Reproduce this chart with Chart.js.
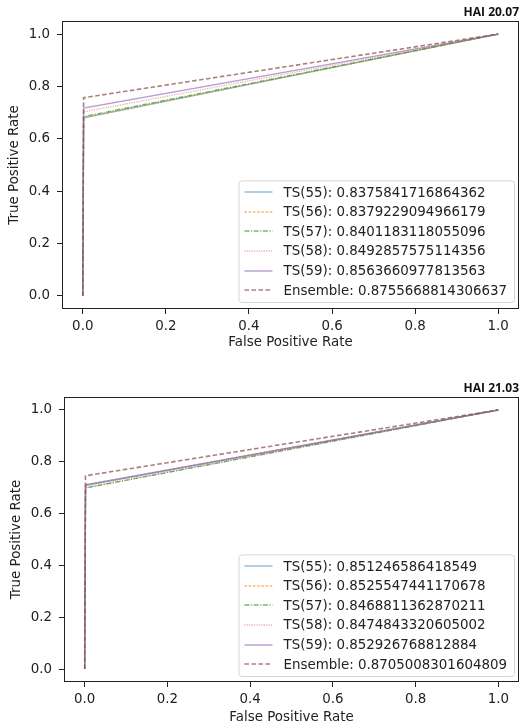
<!DOCTYPE html>
<html>
<head>
<meta charset="utf-8">
<script src="https://cdn.jsdelivr.net/npm/chart.js@4.4.1/dist/chart.umd.min.js"></script>
<style>
  html, body { margin: 0; padding: 0; background: #fff; }
  .panel { position: relative; width: 521px; height: 362px; }
</style>
</head>
<body>
<div class="panel"><canvas id="rocTop"></canvas></div>
<div class="panel"><canvas id="rocBottom"></canvas></div>
<script>
// ── Data ────────────────────────────────────────────────────────────────────
const modelNames = ['TS(55)', 'TS(56)', 'TS(57)', 'TS(58)', 'TS(59)', 'Ensemble'];

// HAI 20.07
const aucTop     = [0.8375841716864362, 0.8379229094966179, 0.8401183118055096,
                    0.8492857575114356, 0.8563660977813563, 0.8755668814306637];
const kneeFprTop = [0.002, 0.002, 0.002, 0.002, 0.002, 0.002];
const kneeTprTop = [0.680, 0.681, 0.685, 0.703, 0.717, 0.757];

// HAI 21.03
const aucBottom     = [0.851246586418549, 0.8525547441170678, 0.8468811362870211,
                       0.8474843320605002, 0.852926768812884, 0.8705008301604809];
const kneeFprBottom = [0.002, 0.002, 0.002, 0.002, 0.002, 0.002];
const kneeTprBottom = [0.708, 0.711, 0.699, 0.700, 0.711, 0.746];

const rocStart = [0, 0];
const rocEnd   = [1, 1];
const tickValues = [0, 0.2, 0.4, 0.6, 0.8, 1.0];

// ── Styling ─────────────────────────────────────────────────────────────────
const lineColors = ['rgba(31,119,180,0.5)', 'rgba(255,127,14,0.6)', 'rgba(44,160,44,0.7)',
                    'rgba(214,39,40,0.38)', 'rgba(148,103,189,0.65)', 'rgba(140,86,75,0.75)'];
const lineDashes = [[], [2.6, 1.6], [5, 1.5, 1.2, 1.5], [1.2, 1.2], [], [4.5, 2.5]];
const lineWidths = [1.4, 1.3, 1.4, 1.3, 1.4, 1.6];
const FONT = 'DejaVu Sans';
const TEXT = '#222';

// Black frame on all four sides, like a matplotlib axes.
const framePlugin = {
  id: 'frame',
  afterDatasetsDraw(chart) {
    const { ctx, chartArea: a } = chart;
    ctx.save();
    ctx.strokeStyle = '#222';
    ctx.lineWidth = 1;
    ctx.strokeRect(Math.round(a.left) + 0.5, Math.round(a.top) + 0.5,
      Math.round(a.right - a.left) - 1, Math.round(a.bottom - a.top) - 1);
    ctx.restore();
  },
};

// Bold caption sitting right-aligned above the frame.
const captionPlugin = {
  id: 'caption',
  afterDraw(chart, _args, opts) {
    const { ctx, chartArea: a } = chart;
    ctx.save();
    ctx.font = `bold 12px "Open Sans"`;
    ctx.fillStyle = '#111';
    ctx.textAlign = 'right';
    ctx.textBaseline = 'middle';
    ctx.fillText(opts.text, a.right, a.top - 8);
    ctx.restore();
  },
};

// Legend drawn inside the plot area, lower right corner.
const insideLegend = {
  id: 'insideLegend',
  afterDraw(chart, _args, opts) {
    const { ctx, chartArea: a } = chart;
    const sets = chart.data.datasets;
    const rowH = 19.6, padY = 2, padL = 6, sample = 28, gap = 11, padR = 7;
    ctx.save();
    ctx.font = `13.4px ${FONT}`;
    const textW = Math.max(...sets.map((d) => ctx.measureText(d.label).width));
    const w = padL + sample + gap + textW + padR;
    const h = sets.length * rowH + padY * 2;
    const x = a.right - opts.marginRight - w;
    const y = a.bottom - opts.marginBottom - h;

    ctx.beginPath();
    ctx.roundRect(x + 0.5, y + 0.5, w, h, 3);
    ctx.fillStyle = 'rgba(255,255,255,0.85)';
    ctx.fill();
    ctx.strokeStyle = '#d6d6d6';
    ctx.lineWidth = 1;
    ctx.stroke();

    sets.forEach((d, i) => {
      const cy = y + padY + rowH * (i + 0.5);
      ctx.beginPath();
      ctx.setLineDash(d.borderDash || []);
      ctx.strokeStyle = d.borderColor;
      ctx.lineWidth = d.borderWidth;
      ctx.moveTo(x + padL, Math.round(cy));
      ctx.lineTo(x + padL + sample, Math.round(cy));
      ctx.stroke();
      ctx.setLineDash([]);
      ctx.fillStyle = TEXT;
      ctx.textAlign = 'left';
      ctx.textBaseline = 'middle';
      ctx.fillText(d.label, x + padL + sample + gap, cy + 1);
    });
    ctx.restore();
  },
};

function buildDatasets(aucs, kneeFpr, kneeTpr) {
  return modelNames.map((name, i) => ({
    label: `${name}: ${aucs[i]}`,
    data: [
      { x: rocStart[0], y: rocStart[1] },
      { x: kneeFpr[i], y: kneeTpr[i] },
      { x: rocEnd[0], y: rocEnd[1] },
    ],
    borderColor: lineColors[i],
    borderDash: lineDashes[i],
    borderWidth: lineWidths[i],
    pointRadius: 0,
    tension: 0,
    fill: false,
    order: modelNames.length - i,
  }));
}

function axis(cfg) {
  return {
    type: 'linear',
    min: -0.05,
    max: 1.05,
    afterBuildTicks: (scale) => { scale.ticks = tickValues.map((v) => ({ value: v })); },
    afterFit: cfg.afterFit,
    grid: { drawOnChartArea: false, drawTicks: true, tickLength: 5, tickColor: '#222' },
    border: { display: false },
    ticks: {
      color: TEXT,
      padding: cfg.tickPad,
      font: { family: FONT, size: 13.4 },
      maxRotation: 0,
      autoSkip: false,
      callback: (v) => Number(v).toFixed(1),
    },
    title: {
      display: true,
      text: cfg.title,
      color: TEXT,
      font: { family: FONT, size: 13.4, lineHeight: 1 },
      padding: cfg.titlePad,
    },
  };
}

function initRocChart(canvasId, caption, datasets, box) {
  new Chart(document.getElementById(canvasId), {
    type: 'line',
    plugins: [framePlugin, captionPlugin, insideLegend],
    data: { datasets },
    options: {
      responsive: true,
      maintainAspectRatio: false,
      animation: false,
      devicePixelRatio: 1,
      layout: { padding: { top: box.top, right: 2, left: 0, bottom: 0 } },
      plugins: {
        legend: { display: false },
        tooltip: { enabled: false },
        caption: { text: caption },
        insideLegend: { marginRight: 5, marginBottom: box.legendBottom },
      },
      scales: {
        x: axis({
          title: 'False Positive Rate',
          tickPad: 4,
          titlePad: { top: 0, bottom: box.xTitlePad },
          afterFit: (s) => { s.height = box.xHeight; },
        }),
        y: axis({
          title: 'True Positive Rate',
          tickPad: 7,
          titlePad: { top: box.yTitlePad, bottom: 0 },
          afterFit: (s) => { s.width = box.yWidth; },
        }),
      },
    },
  });
}

initRocChart('rocTop', 'HAI 20.07', buildDatasets(aucTop, kneeFprTop, kneeTprTop),
  { top: 21, yWidth: 62, xHeight: 53, xTitlePad: 13, yTitlePad: 8, legendBottom: 7 });
initRocChart('rocBottom', 'HAI 21.03', buildDatasets(aucBottom, kneeFprBottom, kneeTprBottom),
  { top: 35, yWidth: 64, xHeight: 42, xTitlePad: 0, yTitlePad: 10, legendBottom: 6 });
</script>
</body>
</html>
